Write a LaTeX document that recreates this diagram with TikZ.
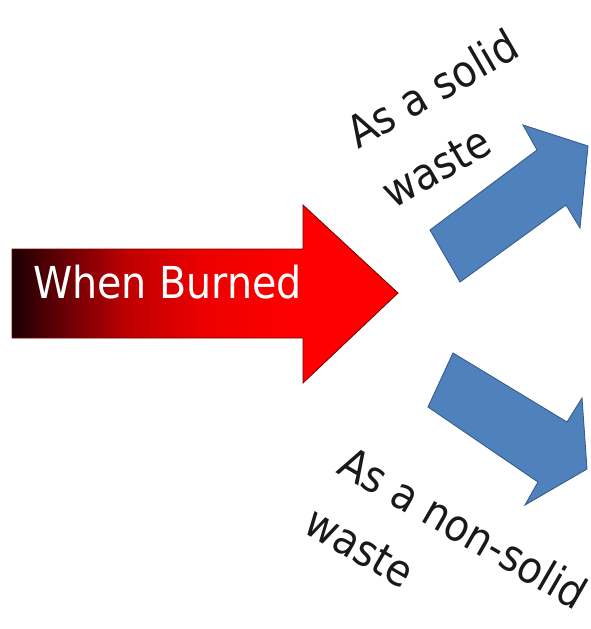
\documentclass[tikz,border=0pt]{standalone}
\usepackage{fontspec}
\setmainfont{DejaVu Sans Condensed}
\definecolor{burnA}{rgb}{0.10,0,0.01}
\definecolor{burnB}{rgb}{0.42,0,0.02}
\definecolor{burnC}{rgb}{0.75,0,0.01}
\definecolor{burnD}{rgb}{0.93,0,0}
\definecolor{arrowblue}{RGB}{79,129,189}
\definecolor{arrowblueline}{RGB}{56,93,138}
\pgfdeclarehorizontalshading{burnshade}{100bp}{color(0bp)=(burnA); color(25bp)=(burnA); color(32bp)=(burnB); color(40bp)=(burnC); color(50bp)=(burnD); color(62bp)=(red); color(100bp)=(red)}
\tikzset{
  redarrow/.style={shading=burnshade, draw={rgb,1:red,0.45;green,0;blue,0}, line width=0.8pt, line join=miter},
  bluearrow/.style={fill=arrowblue, draw=arrowblueline, line width=0.9pt, line join=miter},
  bigtext/.style={font=\fontsize{44}{54}\selectfont, inner sep=0pt, anchor=base west},
  labeltext/.style={bigtext, text=black!90}
}
\begin{document}
\begin{tikzpicture}[x=1pt, y=-1pt]
\useasboundingbox (0,0) rectangle (591,629);
% red arrow
\path[redarrow] (12,249) -- (303,249) -- (303,205) -- (398,293) -- (303,383) -- (303,338) -- (12,338) -- cycle;
\node[bigtext, text=white] (burned) at (33,298) {When Burned};
% upper blue arrow
\path[bluearrow] (430,230) -- (537,150) -- (523,125) -- (588,146) -- (580,228) -- (566,205) -- (460,282) -- cycle;
% lower blue arrow
\path[bluearrow] (453,353) -- (567,422) -- (582,398) -- (587,469) -- (525,505) -- (538,482) -- (428,407) -- cycle;
% labels
\node[labeltext, rotate=30] (solid1) at (358,150) {As a solid};
\node[labeltext, rotate=30] (solid2) at (393,210) {waste};
\node[labeltext, rotate=-30] (nonsolid1) at (335,472) {As a non-solid};
\node[labeltext, rotate=-30] (nonsolid2) at (301,531) {waste};
\end{tikzpicture}
\end{document}
